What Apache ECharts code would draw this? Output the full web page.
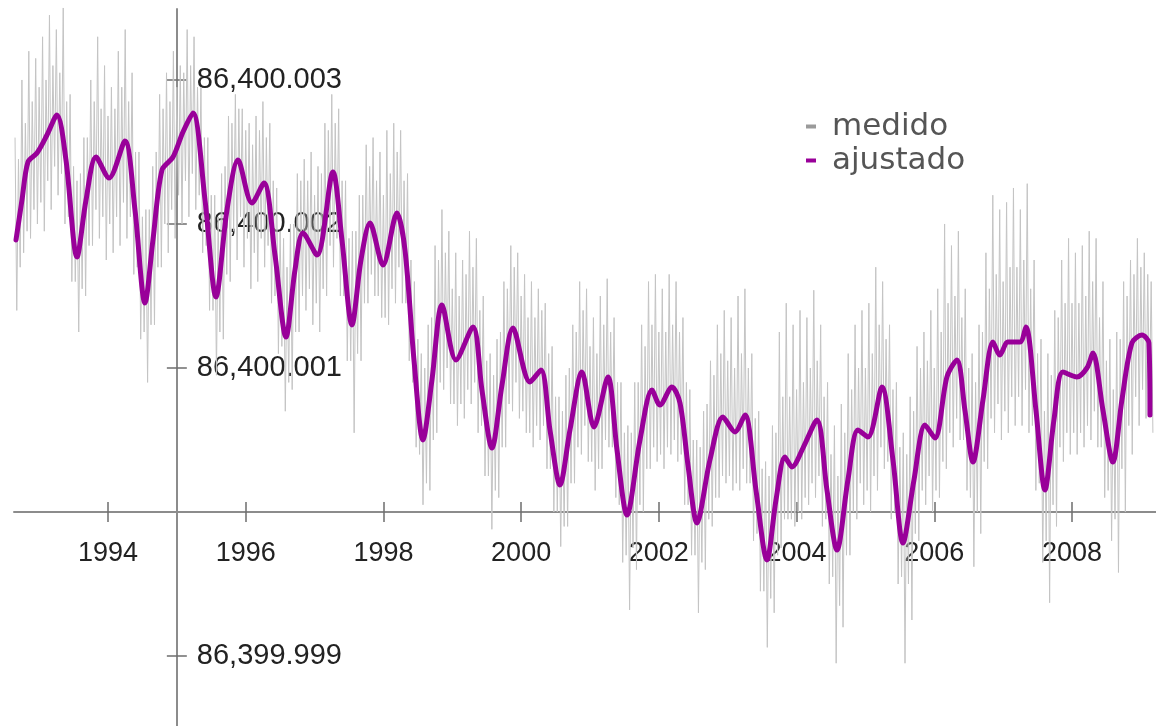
<!DOCTYPE html>
<html>
<head>
<meta charset="utf-8">
<script src="https://cdn.jsdelivr.net/npm/echarts@6/dist/echarts.min.js"></script>
<style>
html,body{margin:0;padding:0;background:#ffffff;}
#chart{width:1156px;height:726px;}
</style>
</head>
<body>
<div id="chart"></div>
<script>
// ---------- data (values in ms above 86,400 s) ----------
const seriesNames = ['medido', 'ajustado'];

const xTickYears = [1994, 1996, 1998, 2000, 2002, 2004, 2006, 2008];
const yTickValues = [3, 2, 1, -1];
const yTickLabels = ['86,400.003', '86,400.002', '86,400.001', '86,399.999'];

// measured (gray): every 0.1 year from 1992.65 -> tallest spike top / deepest spike bottom
const medidoStart = 1992.65;
const medidoStep = 0.1;
const medidoHigh = [
  2.6,3.0,3.2,3.15,3.3,3.45,3.35,3.5,2.9,2.3,
  2.6,3.0,3.3,3.1,2.95,3.2,3.35,3.05,2.5,2.1,
  2.4,2.9,3.05,3.2,3.1,3.35,3.3,2.95,2.6,2.2,
  2.35,2.75,2.9,2.8,2.7,2.75,2.85,2.7,2.25,1.9,
  2.0,2.35,2.45,2.5,2.4,2.7,2.9,2.8,2.3,1.95,
  2.2,2.55,2.6,2.5,2.65,2.7,2.65,2.35,1.6,1.1,
  1.3,1.85,2.1,1.95,1.8,1.75,1.95,1.9,1.5,1.1,
  1.2,1.6,1.85,1.8,1.65,1.6,1.55,1.45,1.15,0.8,
  0.95,1.3,1.6,1.55,1.35,1.5,1.62,1.35,0.9,0.6,
  0.9,1.3,1.6,1.65,1.55,1.65,1.6,1.35,0.85,0.5,
  0.7,1.05,1.3,1.4,1.35,1.5,1.55,1.1,0.7,0.35,
  0.6,1.25,1.45,1.3,1.4,1.35,1.54,1.3,0.9,0.6,
  0.75,1.1,1.3,1.4,1.45,1.7,1.6,1.3,0.9,0.55,
  0.8,1.15,1.25,1.4,1.55,2.0,1.85,1.95,1.55,1.1,
  1.3,1.8,2.2,2.1,2.15,2.25,2.1,2.28,1.75,1.2,
  1.1,1.4,1.75,1.9,1.8,1.85,1.95,1.9,1.6,1.2,
  1.25,1.6,1.75,1.9,1.8,1.6
];
const medidoLow = [
  1.4,1.8,1.9,2.0,1.95,2.1,2.2,2.0,1.6,1.25,
  1.5,1.85,1.9,1.75,1.8,1.85,1.9,1.65,1.2,0.9,
  1.3,1.7,1.8,1.9,2.0,2.05,2.1,1.8,1.4,0.95,
  1.2,1.6,1.75,1.7,1.55,1.6,1.7,1.45,1.1,0.7,
  0.85,1.25,1.4,1.3,1.25,1.5,1.7,1.5,1.05,0.55,
  1.05,1.45,1.5,1.35,1.3,1.45,1.45,1.05,0.45,0.05,
  0.15,0.55,0.85,0.75,0.6,0.65,0.75,0.55,0.25,-0.12,
  0.1,0.45,0.7,0.65,0.55,0.45,0.5,0.3,0.0,-0.24,
  -0.1,0.2,0.4,0.35,0.15,0.3,0.45,0.1,-0.35,-0.68,
  -0.4,0.0,0.3,0.35,0.3,0.4,0.35,0.05,-0.3,-0.7,
  -0.4,-0.1,0.1,0.2,0.15,0.15,0.2,-0.2,-0.55,-0.94,
  -0.7,-0.25,-0.05,-0.1,-0.05,0.05,0.1,-0.1,-0.5,-1.05,
  -0.8,-0.3,-0.05,0.05,0.0,0.15,0.3,-0.05,-0.5,-1.05,
  -0.75,-0.2,0.05,0.0,0.1,0.3,0.45,0.5,0.15,-0.38,
  -0.15,0.3,0.55,0.5,0.55,0.6,0.6,0.55,0.15,-0.35,
  -0.63,-0.1,0.35,0.4,0.4,0.45,0.5,0.45,0.1,-0.2,
  -0.42,0.0,0.4,0.6,0.65,0.55
];
// measured (gray): the shorter spikes in between, every 0.1 year from 1992.70
const medidoHighMid = [
  2.45,2.7,2.85,2.95,3.0,3.1,3.05,2.85,2.4,2.35,
  2.6,2.85,2.8,2.75,2.8,2.95,2.85,2.5,2.05,2.1,
  2.5,2.8,2.85,2.95,3.05,3.1,2.95,2.6,2.2,2.05,
  2.4,2.7,2.8,2.65,2.55,2.65,2.6,2.3,1.95,1.7,
  2.0,2.3,2.3,2.2,2.35,2.65,2.7,2.3,1.9,1.95,
  2.2,2.4,2.3,2.2,2.35,2.5,2.3,1.75,1.2,1.0,
  1.35,1.75,1.8,1.55,1.5,1.65,1.7,1.4,1.05,0.95,
  1.25,1.55,1.7,1.5,1.35,1.35,1.4,1.1,0.8,0.7,
  1.0,1.25,1.4,1.15,1.1,1.3,1.25,0.9,0.55,0.55,
  0.9,1.15,1.3,1.25,1.25,1.3,1.25,0.9,0.5,0.45,
  0.75,0.95,1.1,1.05,1.0,1.1,1.0,0.65,0.3,0.25,
  0.55,0.8,0.8,0.85,0.9,1.0,1.05,0.8,0.4,0.25,
  0.55,0.85,1.0,1.0,1.1,1.3,1.2,0.85,0.45,0.4,
  0.7,1.0,1.05,1.0,1.25,1.45,1.5,1.35,1.0,0.9,
  1.25,1.55,1.65,1.6,1.7,1.7,1.75,1.55,1.1,0.7,
  0.95,1.35,1.45,1.45,1.45,1.5,1.6,1.35,1.05,0.85,
  1.2,1.5,1.65,1.7,1.65
];
const medidoLowMid = [
  1.7,1.95,2.1,2.15,2.3,2.4,2.35,2.05,1.6,1.55,
  1.85,2.1,2.05,2.0,2.05,2.15,2.05,1.7,1.25,1.3,
  1.7,2.0,2.1,2.2,2.3,2.35,2.2,1.85,1.4,1.25,
  1.65,1.95,2.05,1.9,1.8,1.9,1.85,1.5,1.15,0.9,
  1.25,1.5,1.55,1.45,1.55,1.85,1.9,1.5,1.05,1.1,
  1.45,1.65,1.5,1.35,1.55,1.7,1.45,0.9,0.4,0.2,
  0.5,0.9,1.0,0.75,0.75,0.85,0.9,0.6,0.25,0.15,
  0.45,0.75,0.9,0.7,0.55,0.6,0.6,0.3,0.0,-0.1,
  0.2,0.45,0.6,0.35,0.3,0.5,0.45,0.05,-0.3,-0.25,
  0.05,0.3,0.45,0.4,0.45,0.5,0.4,0.05,-0.3,-0.35,
  -0.05,0.1,0.25,0.25,0.2,0.3,0.2,-0.15,-0.55,-0.6,
  -0.3,-0.05,-0.05,0.0,0.1,0.2,0.25,-0.05,-0.45,-0.65,
  -0.3,0.0,0.2,0.15,0.25,0.45,0.35,0.0,-0.45,-0.5,
  -0.15,0.15,0.25,0.15,0.35,0.55,0.65,0.5,0.1,0.0,
  0.35,0.65,0.75,0.7,0.8,0.8,0.85,0.6,0.2,-0.2,
  0.05,0.45,0.55,0.55,0.55,0.6,0.7,0.45,0.15,-0.05,
  0.3,0.6,0.8,0.85,0.8
];

// adjusted (purple)
const ajustadoYears = [
  1992.664,1992.751,1992.838,1992.969,1993.114,1993.259,1993.390,1993.550,1993.681,1993.826,
  1994.015,1994.247,1994.392,1994.537,1994.653,1994.784,1994.944,1995.089,1995.234,1995.409,
  1995.568,1995.728,1995.888,1996.091,1996.265,1996.425,1996.585,1996.716,1996.832,1997.035,
  1997.267,1997.398,1997.543,1997.674,1997.805,1997.994,1998.197,1998.313,1998.444,1998.574,
  1998.705,1998.850,1999.054,1999.301,1999.431,1999.576,1999.722,1999.881,2000.128,2000.288,
  2000.419,2000.564,2000.709,2000.883,2001.058,2001.261,2001.392,2001.537,2001.726,2001.900,
  2002.016,2002.190,2002.307,2002.423,2002.553,2002.742,2002.931,2003.105,2003.251,2003.410,
  2003.570,2003.701,2003.831,2003.933,2004.093,2004.296,2004.441,2004.587,2004.746,2004.891,
  2005.037,2005.240,2005.400,2005.545,2005.705,2005.865,2006.010,2006.184,2006.329,2006.445,
  2006.562,2006.707,2006.852,2006.953,2007.070,2007.244,2007.331,2007.476,2007.607,2007.738,
  2007.868,2008.072,2008.217,2008.304,2008.449,2008.594,2008.725,2008.870,2009.016,2009.117,
  2009.132
];
const ajustadoMs = [
  1.889,2.167,2.431,2.493,2.618,2.757,2.444,1.771,2.167,2.465,
  2.319,2.576,2.097,1.451,1.889,2.375,2.465,2.639,2.771,2.167,
  1.493,2.097,2.444,2.146,2.285,1.785,1.215,1.681,1.938,1.785,
  2.361,1.889,1.299,1.750,2.007,1.715,2.076,1.819,1.056,0.500,
  0.917,1.438,1.056,1.285,0.847,0.444,0.882,1.278,0.903,0.986,
  0.569,0.188,0.569,0.972,0.590,0.938,0.431,-0.021,0.500,0.847,
  0.743,0.868,0.757,0.326,-0.076,0.361,0.660,0.556,0.674,0.153,
  -0.333,0.083,0.382,0.313,0.444,0.639,0.153,-0.264,0.222,0.569,
  0.521,0.868,0.361,-0.215,0.222,0.604,0.514,0.938,1.056,0.708,
  0.347,0.778,1.181,1.090,1.181,1.181,1.285,0.708,0.153,0.639,
  0.972,0.938,1.000,1.104,0.708,0.347,0.778,1.174,1.229,1.174,
  0.674
];

// ---------- layout ----------
const W = 1156, H = 726;
const GRID_LEFT = 14, GRID_RIGHT = 0, GRID_TOP = 9, GRID_BOTTOM = 0;
const X_MIN = 1992.635, X_MAX = 2009.22;
const Y_MIN = -1.486, Y_MAX = 3.493;
const Y_AXIS_AT = 1995;   // the vertical axis crosses here
const X_AXIS_AT = 0;      // the horizontal axis crosses here (86,400.000)

const medidoData = [];
medidoHigh.forEach(function (h, i) {
  const t = medidoStart + i * medidoStep;
  medidoData.push([t, h]);
  medidoData.push([t + medidoStep * 0.25, medidoLow[i]]);
  if (i < medidoHighMid.length) {
    medidoData.push([t + medidoStep * 0.5, medidoHighMid[i]]);
    medidoData.push([t + medidoStep * 0.75, medidoLowMid[i]]);
  }
});
const ajustadoData = ajustadoYears.map(function (y, i) { return [y, ajustadoMs[i]]; });

const gridW = W - GRID_LEFT - GRID_RIGHT;
const gridH = H - GRID_TOP - GRID_BOTTOM;
const vAxisPx = GRID_LEFT + (Y_AXIS_AT - X_MIN) / (X_MAX - X_MIN) * gridW;
const hAxisPx = GRID_TOP + (Y_MAX - X_AXIS_AT) / (Y_MAX - Y_MIN) * gridH;

const axisColor = '#8c8c8c';
const tickColor = '#6e6e6e';
const labelFont = '"Liberation Sans", Arial, sans-serif';
const tickStyle = {color: tickColor, width: 1.5};

const chart = echarts.init(document.getElementById('chart'), null, {renderer: 'canvas'});
chart.setOption({
  animation: false,
  backgroundColor: '#ffffff',
  grid: {left: GRID_LEFT, right: GRID_RIGHT, top: GRID_TOP, bottom: GRID_BOTTOM, containLabel: false, outerBoundsMode: 'none'},
  legend: {
    orient: 'vertical',
    left: 806, top: 111, padding: 0,
    icon: 'rect', itemWidth: 10, itemHeight: 4, itemGap: 3,
    data: seriesNames,
    textStyle: {fontFamily: '"DejaVu Sans", sans-serif', fontSize: 31, lineHeight: 31, color: '#555555', padding: [0, 0, 0, 11]}
  },
  xAxis: [
    {
      type: 'value', min: X_MIN, max: X_MAX, position: 'bottom',
      offset: -(H - GRID_BOTTOM - hAxisPx),
      axisLine: {show: true, onZero: false, lineStyle: {color: axisColor, width: 2}},
      axisTick: {show: true, customValues: xTickYears, length: 10, lineStyle: tickStyle},
      axisLabel: {show: true, customValues: xTickYears, margin: 28, fontSize: 27, color: '#222222', fontFamily: labelFont,
        formatter: function (v) { return String(Math.round(v)); }},
      splitLine: {show: false}
    },
    {
      type: 'value', min: X_MIN, max: X_MAX, position: 'top',
      offset: -(hAxisPx - GRID_TOP),
      axisLine: {show: false, onZero: false},
      axisTick: {show: true, customValues: xTickYears, length: 10, lineStyle: tickStyle},
      axisLabel: {show: false},
      splitLine: {show: false}
    }
  ],
  yAxis: [
    {
      type: 'value', min: Y_MIN, max: Y_MAX, position: 'left',
      offset: -(vAxisPx - GRID_LEFT),
      axisLine: {show: true, onZero: false, lineStyle: {color: axisColor, width: 2}},
      axisTick: {show: true, customValues: yTickValues, length: 10, lineStyle: tickStyle},
      axisLabel: {show: false},
      splitLine: {show: false}
    },
    {
      type: 'value', min: Y_MIN, max: Y_MAX, position: 'right',
      offset: -(W - GRID_RIGHT - vAxisPx),
      axisLine: {show: false, onZero: false},
      axisTick: {show: true, customValues: yTickValues, length: 10, lineStyle: tickStyle},
      axisLabel: {show: true, customValues: yTickValues, margin: 20, fontSize: 29, color: '#222222', fontFamily: labelFont,
        formatter: function (v) {
          const k = yTickValues.findIndex(function (t) { return Math.abs(t - v) < 1e-9; });
          return k >= 0 ? yTickLabels[k] : '';
        }},
      splitLine: {show: false}
    }
  ],
  series: [
    {
      name: seriesNames[0], type: 'line', xAxisIndex: 0, yAxisIndex: 0,
      data: medidoData, showSymbol: false, symbol: 'none', clip: false,
      lineStyle: {color: '#c4c4c4', width: 1},
      itemStyle: {color: '#9a9a9a'},
      z: 2
    },
    {
      name: seriesNames[1], type: 'line', xAxisIndex: 0, yAxisIndex: 0,
      data: ajustadoData, showSymbol: false, symbol: 'none', smooth: 0.3, clip: false,
      lineStyle: {color: '#990099', width: 5, cap: 'round', join: 'round'},
      itemStyle: {color: '#990099'},
      z: 3
    }
  ]
});
</script>
</body>
</html>
